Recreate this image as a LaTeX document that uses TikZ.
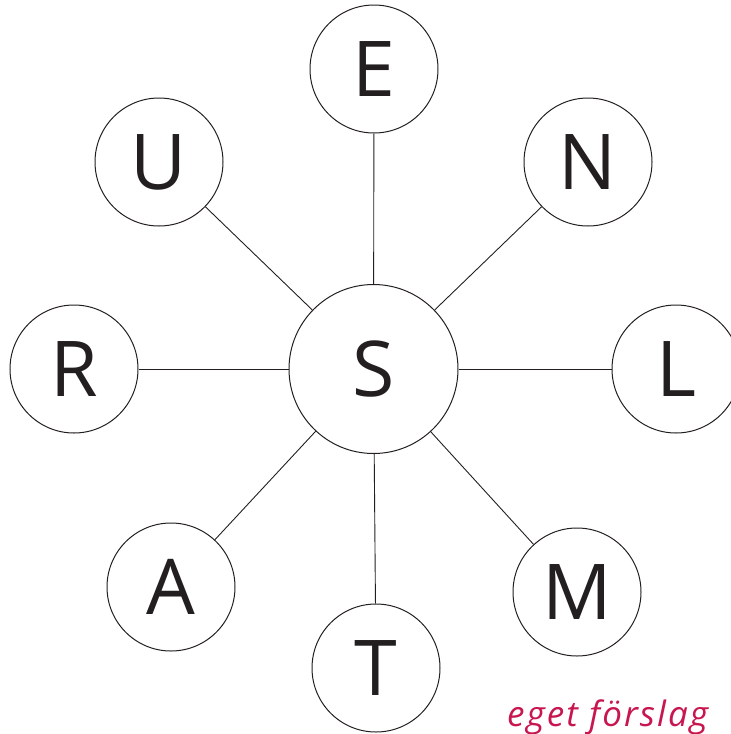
\documentclass[tikz,border=0pt]{standalone}
\usepackage{fontspec}
\setmainfont{Open Sans}
\newfontfamily\notefont[LetterSpace=6]{Open Sans}
\usepackage{tikz}
\usetikzlibrary{positioning}
\definecolor{letterink}{RGB}{35,31,32}
\definecolor{tipred}{RGB}{200,22,78}

\begin{document}
\begin{tikzpicture}[x=1pt,y=-1pt]
\tikzstyle{every node}+=[inner sep=0pt]
\tikzstyle{letter}=[draw=letterink, circle, line width=1pt, minimum size=128pt, text=letterink, font=\fontsize{77}{77}\selectfont]
\tikzstyle{spoke}=[draw=letterink, line width=0.9pt]
\useasboundingbox (0,0) rectangle (731,734);
\node [letter, minimum size=169pt] (S) at (373.5,369) {S};
\node [letter] (E) at (374,69) {E};
\node [letter] (N) at (588,162) {N};
\node [letter] (L) at (676,369) {L};
\node [letter] (M) at (577,592) {M};
\node [letter] (T) at (376,668) {T};
\node [letter] (A) at (171,587) {A};
\node [letter] (R) at (74,369) {R};
\node [letter] (U) at (159,162) {U};
\draw [spoke] (S) -- (E);
\draw [spoke] (S) -- (N);
\draw [spoke] (S) -- (L);
\draw [spoke] (S) -- (M);
\draw [spoke] (S) -- (T);
\draw [spoke] (S) -- (A);
\draw [spoke] (S) -- (R);
\draw [spoke] (S) -- (U);
\node [anchor=base west, text=tipred, font=\notefont\fontsize{35}{35}\selectfont\itshape] (note) at (507,726) {eget förslag};
\end{tikzpicture}
\end{document}
